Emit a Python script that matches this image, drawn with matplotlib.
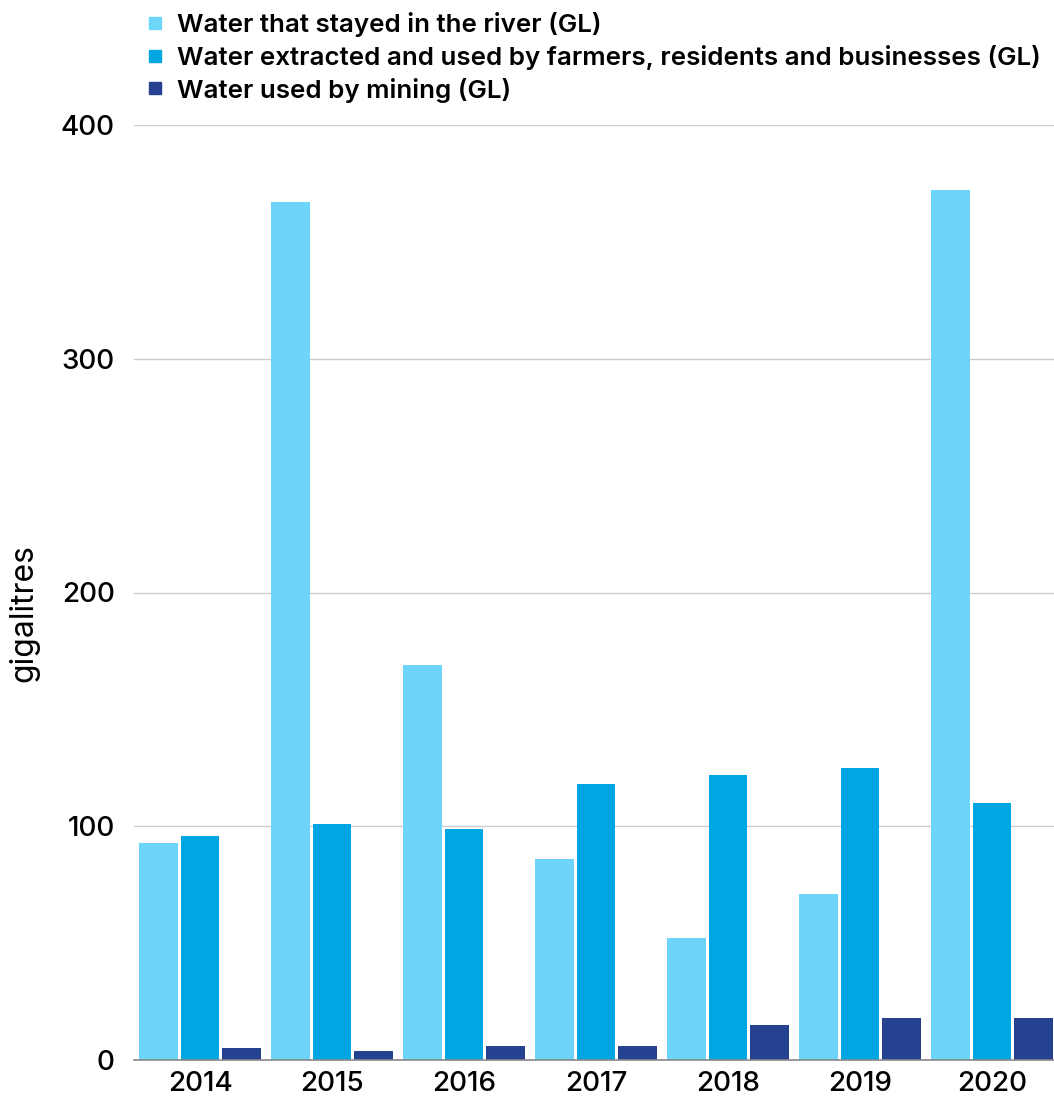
import matplotlib
matplotlib.use("Agg")
import matplotlib.pyplot as plt
from matplotlib.lines import Line2D
import numpy as np

plt.rcParams['font.family'] = ['Inter', 'DejaVu Sans']

years = ['2014', '2015', '2016', '2017', '2018', '2019', '2020']
river = [93, 367, 169, 86, 52, 71, 372]
extracted = [96, 101, 99, 118, 122, 125, 110]
mining = [5, 4, 6, 6, 15, 18, 18]

series_names = [
    'Water that stayed in the river (GL)',
    'Water extracted and used by farmers, residents and businesses (GL)',
    'Water used by mining (GL)',
]
colors = ['#6dd5fa', '#00a6e2', '#26418f']
y_ticks = [0, 100, 200, 300, 400]

fig = plt.figure(figsize=(10.54, 10.96), dpi=100)
ax = fig.add_axes([134 / 1054, 36 / 1096, (1058 - 134) / 1054, (1060 - 125) / 1096])

x = np.arange(len(years))
width = 0.295
offset = 0.314
for i, (vals, col) in enumerate(zip([river, extracted, mining], colors)):
    ax.bar(x + (i - 1) * offset, vals, width=width, color=col, zorder=3,
           linewidth=0)

ax.set_xlim(-0.5, len(years) - 0.5)
ax.set_ylim(0, 400)
ax.set_yticks(y_ticks)
ax.set_yticklabels([str(t) for t in y_ticks], fontsize=20, fontweight='medium')
ax.set_xticks(x)
ax.set_xticklabels(years, fontsize=20, fontweight='medium')
ax.tick_params(axis='both', length=0, colors='black')
ax.tick_params(axis='y', pad=14)
ax.tick_params(axis='x', pad=8)

ax.grid(axis='y', color='#cccccc', linewidth=1, zorder=0)
ax.set_axisbelow(True)
for s in ['top', 'right', 'left']:
    ax.spines[s].set_visible(False)
ax.spines['bottom'].set_color('#888888')
ax.spines['bottom'].set_linewidth(1.2)
ax.spines['bottom'].set_zorder(4)

ax.set_ylabel('gigalitres', fontsize=23)
ax.yaxis.set_label_coords(-0.102, 0.478)

handles = [Line2D([0], [0], marker='s', linestyle='none', markersize=9,
                  markerfacecolor=c, markeredgecolor=c) for c in colors]
fig.legend(handles, series_names, loc='upper left',
           bbox_to_anchor=(132 / 1054, 1 + 1 / 1096),
           frameon=False, handlelength=0.8, handletextpad=0.45,
           labelspacing=0.3, borderpad=0,
           prop={'weight': 'semibold', 'size': 18.7})

fig.savefig('out.png', dpi=100)
